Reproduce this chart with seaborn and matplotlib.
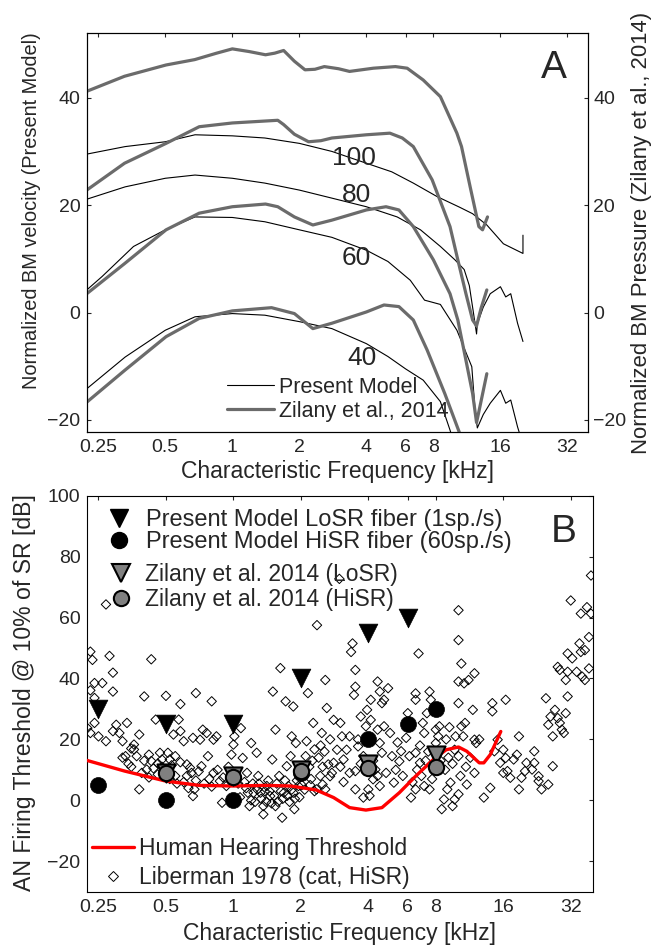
import numpy as np
import pandas as pd
import matplotlib
matplotlib.use("Agg")
import matplotlib.pyplot as plt
import seaborn as sns
from matplotlib.ticker import FixedLocator, FixedFormatter, NullLocator
from matplotlib.lines import Line2D

# ---------------- data: panel A ----------------
# Present model (thin black), normalized BM velocity
t100_f = [0.222, 0.33, 0.50, 0.68, 1.0, 1.4, 2.0, 2.8, 4.0, 5.2, 6.5, 8.3, 10.5, 12.0, 13.9, 16.5, 20.2, 20.2]
t100_v = [29.5, 30.9, 31.8, 33.1, 32.9, 32.5, 31.5, 30.0, 27.8, 26.2, 24.1, 21.6, 19.6, 18.4, 16.3, 12.8, 11.0, 14.4]
t80_f = [0.222, 0.33, 0.50, 0.68, 1.0, 1.4, 2.0, 2.8, 4.0, 5.5, 7.0, 8.6, 10.0, 11.0, 11.6, 12.1, 12.5, 12.6, 13.4, 14.4, 16.0, 16.9, 17.8, 19.1, 20.2]
t80_v = [21.1, 23.4, 25.0, 25.6, 25.0, 24.1, 22.8, 21.3, 19.7, 17.8, 15.4, 12.3, 9.8, 8.0, 5.0, 0.0, -4.0, -2.1, 1.0, 3.5, 4.8, 2.9, 3.5, -2.0, -5.4]
t60_f = [0.222, 0.26, 0.36, 0.50, 0.68, 1.0, 1.4, 2.0, 2.8, 4.0, 5.0, 6.3, 7.3, 8.6, 10.2, 11.9, 12.3, 12.6, 13.4, 14.4, 16.0, 16.9, 17.8, 19.1, 20.0]
t60_v = [4.2, 6.7, 12.3, 15.4, 17.8, 17.7, 16.9, 15.4, 14.0, 11.6, 9.5, 6.0, 2.3, 1.5, -3.3, -10.1, -18.0, -21.5, -19.0, -16.9, -14.5, -16.9, -16.3, -21.3, -24.0]
t40_f = [0.222, 0.33, 0.50, 0.68, 1.0, 1.4, 2.0, 2.8, 4.0, 5.0, 6.0, 7.2, 8.6, 9.5, 10.0]
t40_v = [-14.2, -8.3, -3.3, -0.8, -0.2, -0.5, -1.7, -3.0, -5.8, -8.2, -10.5, -12.6, -16.6, -21.9, -25.0]

# Zilany et al. 2014 (thick grey), normalized BM pressure
g1_f = [0.222, 0.328, 0.504, 0.678, 0.85, 1.0, 1.19, 1.41, 1.55, 1.7, 1.9, 2.12, 2.35, 2.59, 3.0, 3.36, 4.3, 5.4, 6.1, 7.2, 8.6, 10.2, 10.7, 11.7, 12.8, 13.3, 14.0]
g1_v = [41.2, 44.0, 46.1, 47.1, 48.3, 49.1, 48.6, 48.0, 48.3, 48.8, 46.8, 45.2, 45.3, 45.8, 45.4, 44.9, 45.5, 45.8, 45.5, 43.3, 40.2, 33.4, 30.9, 23.4, 16.0, 15.4, 17.8]
g2_f = [0.222, 0.328, 0.504, 0.71, 1.0, 1.6, 1.7, 1.9, 2.2, 2.5, 2.8, 4.0, 5.1, 5.8, 6.5, 7.9, 9.5, 10.3, 11.2, 12.0, 12.5, 13.1, 13.9]
g2_v = [22.8, 27.8, 31.5, 34.6, 35.3, 35.8, 35.0, 33.2, 31.8, 32.0, 32.5, 33.1, 33.4, 32.5, 30.9, 24.7, 16.0, 9.8, 3.5, -1.4, -2.5, 0.8, 4.2]
g3_f = [0.222, 0.328, 0.504, 0.71, 1.0, 1.41, 1.6, 1.9, 2.3, 2.8, 4.0, 4.9, 5.6, 6.5, 8.0, 9.5, 10.3, 11.2, 12.0, 12.5, 13.1, 13.9]
g3_v = [3.5, 9.1, 15.4, 18.5, 19.7, 20.2, 19.7, 17.8, 16.3, 17.2, 19.1, 19.7, 19.1, 16.0, 9.8, 3.5, -1.4, -8.9, -15.1, -20.5, -16.5, -11.4]
g4_f = [0.222, 0.328, 0.504, 0.71, 1.0, 1.5, 1.9, 2.3, 2.8, 4.0, 4.8, 5.6, 6.5, 7.5, 9.0, 10.5, 11.0]
g4_v = [-16.7, -10.8, -4.5, -1.1, 0.3, 0.9, -0.2, -3.0, -2.0, 0.1, 1.4, 1.1, -1.4, -7.0, -15.1, -22.5, -25.0]

level_f = [3.5, 3.62, 3.62, 3.81]
level_v = [28.8, 21.8, 10.2, -8.4]
level_txt = ["100", "80", "60", "40"]

# ---------------- data: panel B ----------------
hum_f = [0.222, 0.327, 0.5, 0.705, 1.0, 1.41, 1.8, 2.34, 2.8, 3.3, 3.9, 4.6, 5.5, 6.5, 7.8, 8.9, 10.1, 11.0, 12.5, 13.1, 14.0, 15.6]
hum_v = [13.1, 9.6, 6.3, 4.9, 4.7, 4.9, 4.7, 3.4, 0.9, -2.4, -3.2, -2.4, 2.5, 7.9, 13.4, 16.6, 17.5, 16.1, 12.3, 12.3, 15.0, 22.6]

pm_lo_f = [0.25, 0.5, 1, 2, 4, 6]
pm_lo_v = [30, 25, 25, 40, 55, 60]
pm_hi_f = [0.25, 0.5, 1, 2, 4, 6, 8]
pm_hi_v = [5, 0, 0, 9, 20, 25, 30]
zl_lo_f = [0.5, 1, 2, 4, 8]
zl_lo_v = [9, 8, 10, 12, 15]
zl_hi_f = [0.5, 1, 2, 4, 8]
zl_hi_v = [9, 7.5, 9.5, 10.5, 11]

lib_f = [0.27, 0.23, 0.235, 0.28, 0.29, 0.24, 0.26, 0.23, 0.24, 0.29, 0.223, 0.23, 0.24, 0.25, 0.27,
         0.29, 0.30, 0.31, 0.32, 0.335, 0.33, 0.36, 0.36, 0.38, 0.37, 0.38, 0.40, 0.41, 0.43, 0.42,
         0.43, 0.45, 0.46, 0.47, 0.48, 0.50, 0.51, 0.52, 0.54, 0.55, 0.57, 0.58, 0.58, 0.60, 0.62,
         0.64, 0.65, 0.66, 0.67, 0.68, 0.66, 0.71, 0.73, 0.72, 0.76, 0.77, 0.80, 0.815, 0.815, 0.84,
         0.87, 0.89, 0.93, 0.98, 1.0, 1.01, 1.08, 1.10, 1.15, 1.16, 1.18, 1.20, 1.23, 1.27, 1.29,
         1.32, 1.36, 1.36, 1.41, 1.46, 1.49, 1.50, 1.54, 1.54, 1.60, 1.62, 1.65, 1.68, 1.71, 1.73,
         1.76, 1.80, 1.82, 1.85, 1.85, 1.87, 1.90, 1.95, 2.10, 2.12, 2.15, 2.27, 2.30, 2.36, 2.30,
         2.44, 2.48, 2.57, 2.61, 2.65, 2.57,
         0.44, 0.46, 0.48, 0.50, 0.52, 0.53, 0.55, 0.56, 0.58, 0.60, 0.62, 0.63, 0.68, 0.70, 0.74,
         0.78, 0.80, 0.85, 0.90, 0.95, 1.05, 1.07, 1.12, 1.14, 1.20, 1.22, 1.25, 1.28, 1.30, 1.33,
         1.38, 1.40, 1.43, 1.45, 1.48, 1.52, 1.56, 1.58, 1.63, 1.66, 1.70, 1.74, 1.78, 1.82, 1.88,
         1.92, 1.97, 2.02, 2.05, 2.08, 2.18, 2.22, 2.25, 2.20, 2.40, 2.45, 2.50, 2.55, 2.70, 2.75,
         2.80, 3.00, 3.05, 2.90, 3.10, 2.80, 2.70, 2.50, 2.35,
         0.32, 0.34, 0.35, 0.39, 0.40, 0.42, 0.35,
         2.97, 3.2, 3.3, 3.4, 3.35, 3.5, 3.5, 3.45, 3.7, 3.9, 3.6, 3.8, 3.5, 3.5, 3.8,
         3.95, 4.1, 4.4, 4.5, 4.7, 4.6, 4.9, 4.1, 4.4, 4.5, 4.6, 4.7, 5.0, 5.1, 4.3,
         4.5, 4.2, 4.0, 4.05, 4.8, 5.2, 5.5, 5.6, 5.9, 6.0, 6.5, 6.7, 6.5, 7.0, 7.1,
         7.5, 7.6, 7.3, 6.5, 6.1, 6.8, 6.5, 6.2, 7.1, 7.5, 8.0, 8.2, 8.3, 8.0, 8.5,
         8.7, 9.0, 9.3, 9.5, 9.7, 9.7, 10.1, 10.1, 10.1, 10.1, 10.4, 10.1, 10.7, 10.4, 10.6,
         10.8, 11.2, 11.9, 11.7, 11.9, 12.1, 11.9, 11.0, 10.1, 13.1, 14.0, 14.3, 14.3, 14.6, 15.1,
         15.5, 16.0, 16.4, 16.0, 16.7, 16.4, 17.2, 17.8, 18.4, 18.8, 19.3, 18.8, 20.0, 20.3, 21.5,
         22.0, 23.0, 22.0, 23.0, 23.7, 24.8, 25.4, 26.6, 25.4, 26.0, 26.6, 27.2, 28.0, 28.6, 28.0,
         28.6, 29.2, 29.8, 30.4, 31.0, 31.0, 30.4, 31.0, 32.0, 32.5, 34.0, 35.0, 35.5, 35.5, 36.0,
         37.0, 37.0, 37.8, 38.6, 39.4, 38.6, 39.4,
         5.3, 5.7, 6.3, 6.6, 6.9, 7.2, 7.8, 7.4, 6.8, 5.4, 7.7, 8.4, 8.8, 9.1, 9.5,
         10.3, 10.9, 11.4, 12.5, 8.9, 9.2, 9.8, 3.7, 4.2, 4.4, 3.3, 3.0, 3.1, 3.6]
lib_v = [64.3, 48.8, 46.1, 47.4, 41.9, 38.5, 38.5, 36.1, 33.6, 35.7, 23.7, 22.1, 25.4, 21.0, 19.4,
         22.7, 24.8, 22.1, 19.4, 25.4, 14.5, 18.3, 16.7, 21.6, 14.5, 3.6, 34.1, 10.1, 46.3, 15.0,
         12.9, 26.5, 12.1, 15.6, 13.4, 34.3, 15.6, 13.4, 21.6, 14.5, 26.5, 31.6, 22.7, 19.4, 11.8,
         10.7, 9.0, 1.4, 3.6, 35.2, 20.5, 19.9, 23.2, 11.2, 22.1, 14.5, 32.5, 19.9, 9.0, 21.0,
         6.3, -0.8, 4.7, 15.0, 18.3, 21.0, 23.7, 13.9, 9.0, 2.5, -1.9, 18.8, 2.5, 15.6, 8.0,
         2.5, -1.9, -4.6, 4.7, 1.4, 13.4, 35.7, 23.2, -1.9, 8.0, 43.4, -5.7, 2.5, 32.5, 11.2,
         4.7, 14.5, 21.0, 30.8, 2.5, -2.9, 18.8, 4.7, 14.5, 19.4, 35.2, 25.4, 16.7, 57.5, 3.0,
         8.0, 22.1, 39.5, 30.3, 11.8, 3.6,
         10.5, 8.5, 11.0, 9.0, 7.0, 11.5, 8.0, 5.5, 12.5, 6.0, 8.0, 4.0, 6.5, 9.5, 5.5,
         7.0, 4.5, 10.0, 7.5, 11.0, 5.5, 1.0, 6.0, 4.0, 0.0, 5.5, -0.5, 3.5, 5.5, 0.5,
         3.0, -0.5, 6.5, 3.0, -1.0, 1.5, 5.5, -0.5, 3.0, 0.5, 6.5, 1.5, -0.5, 3.5, 0.5,
         6.5, 1.0, 5.0, 9.5, 3.5, 11.0, 7.0, 13.0, 5.0, 14.0, 18.0, 11.0, 16.0, 20.0, 9.0,
         26.4, 25.4, 21.0, 16.6, 13.4, 12.3, 7.9, 5.2, 3.6,
         14.0, 12.0, 17.0, 9.0, 13.0, 7.5, 11.0,
         72.7, 16.6, 21.0, 51.5, 48.7, 42.8, 37.3, 34.6, 27.5, 24.3, 17.7, 14.5, 9.6, 3.6, 0.9,
         29.7, 33.0, 39.0, 35.7, 33.0, 31.9, 36.8, 26.4, 23.2, 18.8, 15.6, 24.3, 22.1, 14.5, 10.1,
         4.7, 6.9, 3.6, 1.5, 9.0, 5.8, 12.8, 16.1, 20.5, 28.6, 35.1, 48.2, 33.0, 25.4, 22.1,
         35.7, 33.0, 28.6, 15.6, 14.5, 12.3, 3.6, 0.9, 4.7, 3.6, 23.2, 21.0, 24.3, 18.8, -2.9,
         0.3, 3.6, 5.8, -1.9, 0.3, 16.6, 14.5, 31.9, 62.4, 52.6, 44.9, 39.0, 38.4, 24.3, 21.0,
         25.4, 39.5, 41.7, 29.7, 19.9, 18.8, 9.0, 5.2, 2.0, 0.9, 4.1, 31.9, 29.2, 16.1, 19.9,
         12.3, 9.0, 33.0, 16.6, 9.6, 13.9, 7.4, 13.4, 15.0, 21.0, 7.4, 3.6, 9.6, 12.3, 10.1,
         12.3, 7.9, 16.1, 6.3, 3.6, 33.5, 5.2, 11.2, 24.8, 27.5, 21.0, 29.7, 43.8, 42.8, 27.0,
         25.4, 23.2, 22.1, 28.6, 48.2, 42.2, 39.5, 34.1, 65.6, 46.6, 42.2, 51.5, 48.7, 61.3, 40.6,
         39.5, 49.3, 63.4, 53.6, 73.8, 43.3, 61.3,
         10.0, 8.0, 6.0, 10.0, 8.0, 13.0, 11.0, 16.0, 18.0, 19.0, 7.0, 13.0, 10.0, 14.0, 12.0,
         8.0, 11.0, 14.0, 20.0, 20.0, 24.0, 21.0, 12.0, 13.0, 8.0, 9.0, 11.0, 6.0, 20.0]

xticks = [0.25, 0.5, 1, 2, 4, 6, 8, 16, 32]
xtick_labels = ["0.25", "0.5", "1", "2", "4", "6", "8", "16", "32"]
yticksA = [-20, 0, 20, 40]
yticksB = [-20, 0, 20, 40, 60, 80, 100]

# ---------------- style ----------------
sns.set_style("white")
FS = ["Liberation Sans", "DejaVu Sans"]
plt.rcParams["font.family"] = FS
plt.rcParams["axes.edgecolor"] = "black"
plt.rcParams["axes.linewidth"] = 0.8
GREY = "#6b6b6b"
MGREY = "#808080"

W, H = 652, 947
fig = plt.figure(figsize=(W / 100, H / 100), dpi=100)


def fpos(l, t, r, b):
    return [l / W, 1 - b / H, (r - l) / W, (b - t) / H]


def px(x, y):
    return (x / W, 1 - y / H)


axA = fig.add_axes(fpos(86.7, 33.3, 588.3, 431.7))
axA.set_xscale("log")
axA2 = axA.twinx()
axB = fig.add_axes(fpos(86.7, 495.7, 592.7, 891.7))
axB.set_xscale("log")

# ---------------- panel A ----------------
for f, v in [(t100_f, t100_v), (t80_f, t80_v), (t60_f, t60_v), (t40_f, t40_v)]:
    sns.lineplot(x=f, y=v, ax=axA, color="black", linewidth=0.8, sort=False, estimator=None)
for f, v in [(g1_f, g1_v), (g2_f, g2_v), (g3_f, g3_v), (g4_f, g4_v)]:
    sns.lineplot(x=f, y=v, ax=axA2, color=GREY, linewidth=2.3, sort=False, estimator=None)
for f, v, t in zip(level_f, level_v, level_txt):
    axA2.text(f, v, t, ha="center", va="center", fontsize=19, zorder=5)

for ax in (axA, axA2):
    ax.set_xlim(0.2218, 39.7)
    ax.set_ylim(-22.2, 52)
    ax.set_yticks(yticksA)
axA.xaxis.set_major_locator(FixedLocator(xticks))
axA.xaxis.set_major_formatter(FixedFormatter(xtick_labels))
axA.xaxis.set_minor_locator(NullLocator())
axA.tick_params(axis="x", which="both", direction="in", length=3, width=0.8, top=True,
                labelsize=14, pad=5.5)
axA.tick_params(axis="y", direction="in", length=3, width=0.8, labelsize=14, pad=4.5, right=False)
axA2.tick_params(axis="y", direction="in", length=3, width=0.8, labelsize=14, pad=3.5)
axA.text(0.9316, 0.913, "A", transform=axA.transAxes, ha="center", va="center", fontsize=28)

axA.set_xlabel("Characteristic Frequency [kHz]", fontsize=16.5)
axA.xaxis.label.set_va("center")
axA.xaxis.set_label_coords(0.5, -0.101)
axA.set_ylabel("Normalized BM velocity (Present Model)", fontsize=14.4)
axA.yaxis.label.set_va("center")
axA.yaxis.set_label_coords(-0.1097, 0.556)
axA2.set_ylabel("Normalized BM Pressure (Zilany et al., 2014)", fontsize=15.9)
axA2.yaxis.label.set_va("center")
axA2.yaxis.set_label_coords(1.1065, 0.499)

hA = [Line2D([], [], color="black", lw=0.8), Line2D([], [], color=GREY, lw=2.3)]
axA2.legend(hA, ["Present Model", "Zilany et al., 2014"], loc="upper left",
            bbox_to_anchor=px(226.5, 377), bbox_transform=fig.transFigure, frameon=False,
            fontsize=15.5, handlelength=2.22, handletextpad=0.2, labelspacing=0.14,
            borderpad=0, borderaxespad=0)

# ---------------- panel B ----------------
sns.scatterplot(x=lib_f, y=lib_v, ax=axB, marker="D", s=4.8 ** 2, color="black",
                facecolor="none", edgecolor="black", linewidth=0.7, zorder=2)
sns.lineplot(x=hum_f, y=hum_v, ax=axB, color="red", linewidth=2.4, sort=False,
             estimator=None, zorder=3)
sns.scatterplot(x=pm_lo_f, y=pm_lo_v, ax=axB, marker="v", s=13.5 ** 2, color="black",
                edgecolor="black", linewidth=0.5, zorder=4)
sns.scatterplot(x=pm_hi_f, y=pm_hi_v, ax=axB, marker="o", s=11.5 ** 2, color="black",
                edgecolor="black", linewidth=0.5, zorder=4)
sns.scatterplot(x=zl_lo_f, y=zl_lo_v, ax=axB, marker="v", s=13 ** 2, color=MGREY,
                edgecolor="black", linewidth=1.5, zorder=5)
sns.scatterplot(x=zl_hi_f, y=zl_hi_v, ax=axB, marker="o", s=11 ** 2, color=MGREY,
                edgecolor="black", linewidth=1.5, zorder=5)

axB.set_xlim(0.2215, 40.1)
axB.set_ylim(-30, 100)
axB.set_yticks(yticksB)
axB.xaxis.set_major_locator(FixedLocator(xticks))
axB.xaxis.set_major_formatter(FixedFormatter(xtick_labels))
axB.xaxis.set_minor_locator(NullLocator())
axB.tick_params(axis="x", which="both", direction="in", length=3, width=0.8, top=True,
                labelsize=14, pad=5.5)
axB.tick_params(axis="y", direction="in", length=3, width=0.8, labelsize=14, pad=4.5,
                right=True, labelright=False)
axB.text(0.9425, 0.908, "B", transform=axB.transAxes, ha="center", va="center", fontsize=28)

axB.set_xlabel("Characteristic Frequency [kHz]", fontsize=16.5)
axB.xaxis.label.set_va("center")
axB.xaxis.set_label_coords(0.5, -0.106)
axB.set_ylabel("AN Firing Threshold @ 10% of SR [dB]", fontsize=16.6)
axB.yaxis.label.set_va("center")
axB.yaxis.set_label_coords(-0.1239, 0.502)

h1 = [Line2D([], [], ls="none", marker="v", ms=13.5, mfc="black", mec="black"),
      Line2D([], [], ls="none", marker="o", ms=11.5, mfc="black", mec="black")]
leg1 = axB.legend(h1, ["Present Model LoSR fiber (1sp./s)", "Present Model HiSR fiber (60sp./s)"],
                  loc="upper left", bbox_to_anchor=px(107.5, 509.4), bbox_transform=fig.transFigure,
                  frameon=False, fontsize=17, handlelength=1.0,
                  handletextpad=0.62, labelspacing=0.0, borderpad=0, borderaxespad=0)
axB.add_artist(leg1)
h2 = [Line2D([], [], ls="none", marker="v", ms=13, mfc=MGREY, mec="black", mew=1.5),
      Line2D([], [], ls="none", marker="o", ms=11, mfc=MGREY, mec="black", mew=1.5)]
leg2 = axB.legend(h2, ["Zilany et al. 2014 (LoSR)", "Zilany et al. 2014 (HiSR)"],
                  loc="upper left", bbox_to_anchor=px(107, 563), bbox_transform=fig.transFigure,
                  frameon=False, fontsize=16.5, handlelength=1.2, handletextpad=0.45,
                  labelspacing=0.1, borderpad=0, borderaxespad=0)
axB.add_artist(leg2)
h3 = [Line2D([], [], color="red", lw=2.4),
      Line2D([], [], ls="none", marker="D", ms=4.8, mfc="none", mec="black", mew=0.7)]
axB.legend(h3, ["Human Hearing Threshold", "Liberman 1978 (cat, HiSR)"], loc="upper left",
           bbox_to_anchor=px(91.7, 836.6), bbox_transform=fig.transFigure, frameon=False,
           fontsize=16.5, handlelength=1.85, handletextpad=0.2, labelspacing=0.3,
           borderpad=0, borderaxespad=0)

for ax in (axA, axA2, axB):
    for s in ax.spines.values():
        s.set_color("black")
        s.set_linewidth(0.8)

fig.savefig("out.png", dpi=100)
